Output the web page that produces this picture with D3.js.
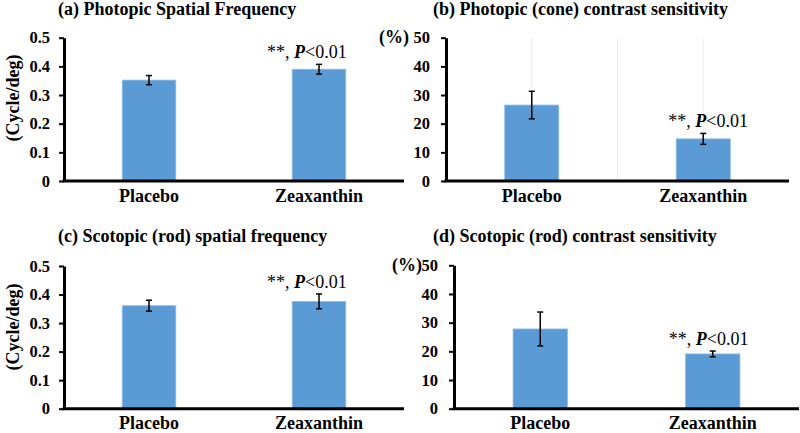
<!DOCTYPE html>
<html>
<head>
<meta charset="utf-8">
<script src="https://cdn.jsdelivr.net/npm/d3@7"></script>
<style>
  html, body { margin: 0; padding: 0; background: #fff; }
  svg { display: block; }
  svg text { font-family: "Times New Roman", "Liberation Serif", "DejaVu Serif", serif !important; fill: #000; }
</style>
</head>
<body>
<svg id="chart" width="800" height="433"></svg>
<script>
// ---------- data ----------
const categories = ["Placebo", "Zeaxanthin"];
const panelTitles = [
  "(a) Photopic Spatial Frequency",
  "(b) Photopic (cone) contrast sensitivity",
  "(c) Scotopic (rod) spatial frequency",
  "(d) Scotopic (rod) contrast sensitivity"
];
const photopicSF = [0.352, 0.390];
const photopicSFErr = [0.016, 0.017];
const photopicCS = [26.5, 14.7];
const photopicCSErr = [4.8, 1.9];
const scotopicSF = [0.361, 0.376];
const scotopicSFErr = [0.019, 0.026];
const scotopicCS = [27.8, 19.1];
const scotopicCSErr = [5.9, 1.0];
const sfTicks = [0, 0.1, 0.2, 0.3, 0.4, 0.5];
const sfTickLabels = ["0", "0.1", "0.2", "0.3", "0.4", "0.5"];
const csTicks = [0, 10, 20, 30, 40, 50];
const csTickLabels = ["0", "10", "20", "30", "40", "50"];
const sfUnit = "(Cycle/deg)";
const csUnit = "(%)";
const sigLabel = ["**, ", "P", "<0.01"];
const sigIndex = 1; // Zeaxanthin

// ---------- layout ----------
const panels = [
  { title: panelTitles[0], values: photopicSF, errs: photopicSFErr, ticks: sfTicks, labels: sfTickLabels, max: 0.5,
    axisX: 64, x1: 404, yTop: 37.7, yBot: 181, titleX: 58, titleY: 15, unit: sfUnit, unitRot: true, unitX: 13, unitY: 98,
    pad: 9, sigDx: -52, grid: false },
  { title: panelTitles[1], values: photopicCS, errs: photopicCSErr, ticks: csTicks, labels: csTickLabels, max: 50,
    axisX: 446, x1: 789, yTop: 37.7, yBot: 181, titleX: 433, titleY: 15, unit: csUnit, unitRot: false, unitX: 409, unitY: 37.7,
    pad: 11, sigDx: -35, grid: true },
  { title: panelTitles[2], values: scotopicSF, errs: scotopicSFErr, ticks: sfTicks, labels: sfTickLabels, max: 0.5,
    axisX: 64, x1: 404, yTop: 266, yBot: 408.7, titleX: 58, titleY: 242, unit: sfUnit, unitRot: true, unitX: 13, unitY: 327,
    pad: 9, sigDx: -52, grid: false },
  { title: panelTitles[3], values: scotopicCS, errs: scotopicCSErr, ticks: csTicks, labels: csTickLabels, max: 50,
    axisX: 454, x1: 799, yTop: 265.3, yBot: 408.7, titleX: 433, titleY: 242, unit: csUnit, unitRot: false, unitX: 422, unitY: 265.3,
    pad: 11, sigDx: -44, grid: false }
];

const svg = d3.select("#chart");

panels.forEach(p => {
  const g = svg.append("g");
  const x = d3.scaleBand().domain(categories).range([p.axisX, p.x1]).padding(0);
  const y = d3.scaleLinear().domain([0, p.max]).range([p.yBot, p.yTop]);
  const bw = x.bandwidth();
  const barW = bw * 0.315;
  const data = categories.map((c, i) => ({ c, v: p.values[i], e: p.errs[i], i }));

  if (p.grid) {
    const gx = [x(categories[0]) + bw / 2, x(categories[1]), x(categories[1]) + bw / 2];
    g.selectAll(".grid").data(gx).enter().append("line")
      .attr("x1", d => d).attr("x2", d => d)
      .attr("y1", y(p.max)).attr("y2", y(0))
      .attr("stroke", "#ececec").attr("stroke-width", 1);
  }

  g.selectAll(".bar").data(data).enter().append("rect")
    .attr("x", d => x(d.c) + bw / 2 - barW / 2)
    .attr("width", barW)
    .attr("y", d => y(d.v))
    .attr("height", d => y(0) - y(d.v))
    .attr("fill", "#5b9bd5")
    .attr("stroke", "#8fbbe6").attr("stroke-width", 0.8);

  const eb = g.selectAll(".err").data(data).enter().append("g");
  eb.append("line")
    .attr("x1", d => x(d.c) + bw / 2).attr("x2", d => x(d.c) + bw / 2)
    .attr("y1", d => y(d.v - d.e)).attr("y2", d => y(d.v + d.e))
    .attr("stroke", "#000").attr("stroke-width", 1.5);
  eb.selectAll(".cap").data(d => [d.v - d.e, d.v + d.e].map(v => ({ v, cx: x(d.c) + bw / 2 })))
    .enter().append("line")
    .attr("x1", d => d.cx - 3).attr("x2", d => d.cx + 3)
    .attr("y1", d => y(d.v)).attr("y2", d => y(d.v))
    .attr("stroke", "#000").attr("stroke-width", 1.5);

  const yAxis = d3.axisLeft(y).tickValues(p.ticks).tickFormat((d, i) => p.labels[i])
    .tickSize(5).tickSizeOuter(0).tickPadding(p.pad);
  const ya = g.append("g").attr("transform", `translate(${p.axisX},0)`).call(yAxis);
  ya.select(".domain").attr("stroke", "#000").attr("stroke-width", 3);
  ya.selectAll(".tick line").attr("stroke", "#000").attr("stroke-width", 2);
  ya.selectAll(".tick text").attr("font-size", 16.5).attr("font-weight", "bold").attr("fill", "#000");

  const xAxis = d3.axisBottom(x).tickSize(0).tickSizeOuter(0).tickPadding(8);
  const xa = g.append("g").attr("transform", `translate(0,${p.yBot})`).call(xAxis);
  xa.select(".domain").attr("stroke", "#000").attr("stroke-width", 3)
    .attr("d", `M${p.axisX - 1.5},0H${p.x1}`);
  xa.selectAll(".tick text").attr("font-size", 18).attr("font-weight", "bold").attr("fill", "#000");

  g.append("text").attr("x", p.titleX).attr("y", p.titleY)
    .attr("font-size", 18).attr("font-weight", "bold").text(p.title);

  if (p.unitRot) {
    g.append("text").attr("transform", `translate(${p.unitX},${p.unitY}) rotate(-90)`)
      .attr("text-anchor", "middle").attr("dy", "0.35em")
      .attr("font-size", 18).attr("font-weight", "bold").text(p.unit);
  } else {
    g.append("text").attr("x", p.unitX).attr("y", p.unitY).attr("dy", "0.32em")
      .attr("text-anchor", "end")
      .attr("font-size", 18).attr("font-weight", "bold").text(p.unit);
  }

  const sd = data[sigIndex];
  const st = g.append("text")
    .attr("x", x(sd.c) + bw / 2 + p.sigDx)
    .attr("y", y(sd.v + sd.e) - 6)
    .attr("font-size", 18);
  st.append("tspan").text(sigLabel[0]);
  st.append("tspan").attr("font-weight", "bold").attr("font-style", "italic").text(sigLabel[1]);
  st.append("tspan").text(sigLabel[2]);
});
</script>
</body>
</html>
